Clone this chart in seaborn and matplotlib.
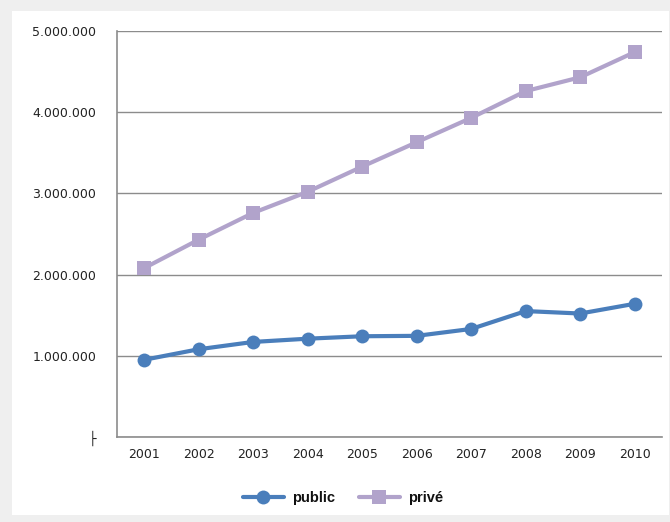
import matplotlib
matplotlib.use("Agg")
import matplotlib.pyplot as plt
import pandas as pd
import seaborn as sns
from matplotlib.patches import Rectangle
from matplotlib.ticker import FixedLocator, FuncFormatter

YEARS = [2001, 2002, 2003, 2004, 2005, 2006, 2007, 2008, 2009, 2010]
PUBLIC = [950000, 1080000, 1170000, 1210000, 1240000, 1245000, 1330000, 1550000, 1520000, 1640000]
PRIVE = [2080000, 2430000, 2760000, 3020000, 3330000, 3630000, 3930000, 4260000, 4430000, 4740000]
SERIES = ["public", "privé"]
COLORS = {"public": "#4A7EBB", "privé": "#B1A3CB"}
MARKERS = {"public": "o", "privé": "s"}


def fmt_y(v, _):
    if v == 0:
        return "├"
    return f"{int(v):,}".replace(",", ".")


def main():
    sns.set_theme(style="white")
    plt.rcParams["font.family"] = ["DejaVu Sans"]

    df = pd.DataFrame({
        "idx": list(range(len(YEARS))) * 2,
        "value": PUBLIC + PRIVE,
        "serie": ["public"] * len(YEARS) + ["privé"] * len(YEARS),
    })

    fig = plt.figure(figsize=(6.7, 5.22), dpi=100, facecolor="#efefef")
    fig.patches.append(Rectangle((0.018, 0.013), 0.98, 0.965, transform=fig.transFigure,
                                 facecolor="white", edgecolor="none", zorder=-10))
    ax = fig.add_axes([0.1746, 0.163, 0.8134, 0.7776])
    ax.set_facecolor("white")

    sns.lineplot(data=df, x="idx", y="value", hue="serie", style="serie",
                 hue_order=SERIES, palette=COLORS, markers=MARKERS, dashes=False,
                 linewidth=3, markersize=10, markeredgewidth=0, ax=ax)

    ax.set_xlim(-0.5, len(YEARS) - 0.5)
    ax.set_ylim(0, 5000000)
    ax.set_yticks([0, 1000000, 2000000, 3000000, 4000000, 5000000])
    ax.yaxis.set_major_formatter(FuncFormatter(fmt_y))
    ax.set_xticks(range(len(YEARS)))
    ax.set_xticklabels([str(y) for y in YEARS])
    ax.xaxis.set_minor_locator(FixedLocator([i - 0.5 for i in range(len(YEARS) + 1)]))
    ax.tick_params(axis="x", which="major", length=0, pad=8, labelsize=9, colors="#222222")
    ax.tick_params(axis="x", which="minor", length=5, color="#888888", direction="out")
    ax.tick_params(axis="y", which="major", length=5, color="#888888", direction="out",
                   labelsize=9, pad=10, labelcolor="#222222")
    ax.grid(axis="y", color="#8c8c8c", linewidth=1)
    ax.set_axisbelow(True)
    for side in ["top", "right"]:
        ax.spines[side].set_visible(False)
    for side in ["left", "bottom"]:
        ax.spines[side].set_color("#8c8c8c")
        ax.spines[side].set_linewidth(1.2)
    ax.set_xlabel("")
    ax.set_ylabel("")

    handles, labels = ax.get_legend_handles_labels()
    leg = ax.legend(handles, labels, loc="upper center", bbox_to_anchor=(0.415, -0.1), ncol=2,
                    frameon=False, handlelength=2.8, columnspacing=1.6, handletextpad=0.6,
                    prop={"family": "Liberation Sans", "weight": "bold", "size": 10.5})
    for t in leg.get_texts():
        t.set_color("#111111")

    fig.savefig("out.png", dpi=100, facecolor=fig.get_facecolor())


if __name__ == "__main__":
    main()
